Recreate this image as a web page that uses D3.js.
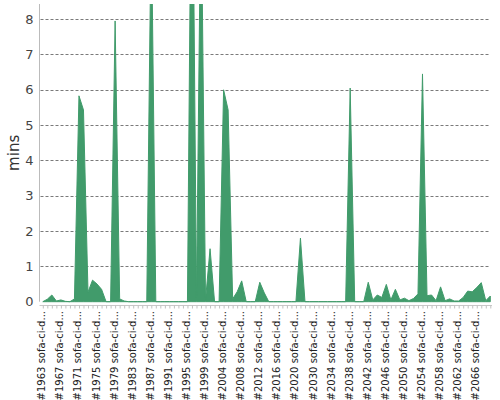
<!DOCTYPE html>
<html>
<head>
<meta charset="utf-8">
<script src="https://cdn.jsdelivr.net/npm/d3@7"></script>
<style>
  html, body { margin: 0; padding: 0; background: #fff; }
  svg { display: block; font-family: "DejaVu Sans", sans-serif; }
</style>
</head>
<body>
<svg id="chart" width="500" height="400"></svg>
<script>
// ---- data ----
const buildIds = [
  1963,1964,1965,1966,1967,1968,1969,1970,1971,1972,1973,1974,1975,1976,1977,1978,1979,1980,1981,1982,
  1983,1984,1985,1986,1987,1988,1989,1990,1991,1992,1993,1994,1995,1996,1997,1998,1999,2000,2001,2003,
  2004,2005,2006,2007,2008,2009,2010,2011,2012,2013,2014,2015,2016,2017,2018,2019,2020,2021,2024,2027,
  2030,2031,2032,2033,2034,2035,2036,2037,2038,2039,2040,2041,2042,2043,2044,2045,2046,2047,2048,2049,
  2050,2051,2052,2053,2054,2055,2056,2057,2058,2059,2060,2061,2062,2063,2064,2065,2066,2067,2068,2069
];
const jobName = "sofa-ci-daily";
const durationMins = [
  0, 0.07, 0.19, 0.02, 0.05, 0.01, 0, 0.08, 5.83, 5.43,
  0.27, 0.61, 0.5, 0.35, 0, 0, 7.95, 0.08, 0.02, 0,
  0, 0, 0, 0, 11, 0, 0, 0, 0, 0,
  0, 0, 0, 15, 0.12, 12, 0.05, 1.5, 0, 0,
  6.0, 5.43, 0.08, 0.28, 0.59, 0, 0, 0, 0.55, 0.25,
  0, 0, 0, 0, 0, 0, 0, 1.8, 0, 0,
  0, 0, 0, 0, 0, 0, 0, 0, 6.05, 0,
  0, 0, 0.55, 0.05, 0.19, 0.12, 0.49, 0.05, 0.35, 0.05,
  0.1, 0.03, 0.09, 0.22, 6.45, 0.17, 0.19, 0.03, 0.42, 0.03,
  0.08, 0.02, 0.02, 0.12, 0.3, 0.28, 0.4, 0.54, 0.03, 0.16
];
const yTicks = [0, 1, 2, 3, 4, 5, 6, 7, 8];
const yLabel = "mins";

// ---- layout ----
const svg = d3.select("#chart");
const x0 = 42.8, x1 = 490.3, yBase = 301.7, yTop = 4, yMaxShown = 8.43;
const axisX = 39.5;

const labels = buildIds.map(id => {
  const full = "#" + id + " " + jobName;
  return full.length > 15 ? full.slice(0, 15) + "..." : full;
});
const data = buildIds.map((id, i) => ({ key: labels[i], v: durationMins[i] }));

const x = d3.scalePoint().domain(labels).range([x0, x1]);
const y = d3.scaleLinear().domain([0, yMaxShown]).range([yBase, yTop]);

// clip
svg.append("defs").append("clipPath").attr("id", "plotclip")
  .append("rect").attr("x", axisX).attr("y", yTop).attr("width", 495 - axisX).attr("height", yBase - yTop + 2);

// gridlines
svg.append("g").selectAll("line")
  .data(yTicks.filter(t => t > 0))
  .join("line")
  .attr("x1", axisX + 1).attr("x2", 490)
  .attr("y1", d => Math.round(y(d)) + 0.5).attr("y2", d => Math.round(y(d)) + 0.5)
  .attr("stroke", "#7a7a7a").attr("stroke-width", 1).attr("stroke-dasharray", "3,2");

// area
const area = d3.area()
  .x(d => x(d.key))
  .y0(yBase)
  .y1(d => y(d.v));
svg.append("path")
  .datum(data)
  .attr("clip-path", "url(#plotclip)")
  .attr("d", area)
  .attr("fill", "#419b6b")
  .attr("stroke", "#419b6b")
  .attr("stroke-width", 1);

// y axis
const yAxis = d3.axisLeft(y).tickValues(yTicks).tickSize(0).tickPadding(6).tickFormat(d3.format("d"));
const gy = svg.append("g").attr("transform", `translate(${axisX},0)`).call(yAxis);
gy.select(".domain").attr("stroke", "#bbbbbb").attr("d", `M0,${yTop}V${yBase}`);
gy.selectAll("text").attr("fill", "#444").attr("font-size", 13).attr("font-family", "DejaVu Sans, sans-serif");

// y label
svg.append("text")
  .attr("transform", `translate(19,${(yTop + yBase) / 2}) rotate(-90)`)
  .attr("text-anchor", "middle")
  .attr("font-size", 15)
  .attr("fill", "#333")
  .text(yLabel);

// x axis
const xAxis = d3.axisBottom(x).tickSize(3).tickFormat("");
const gx = svg.append("g").attr("transform", `translate(0,305.5)`).call(xAxis);
gx.select(".domain").attr("stroke", "#c8c8c8").attr("d", `M${axisX},0H492`);
gx.selectAll(".tick line").attr("stroke", "#c0c0c0");

// x labels every 4th
svg.append("g").selectAll("text")
  .data(labels.filter((d, i) => i % 4 === 0))
  .join("text")
  .attr("transform", d => `translate(${x(d) + 2.5},311) rotate(-90)`)
  .attr("text-anchor", "end")
  .attr("font-size", 10)
  .attr("fill", "#222")
  .text(d => d);
</script>
</body>
</html>
